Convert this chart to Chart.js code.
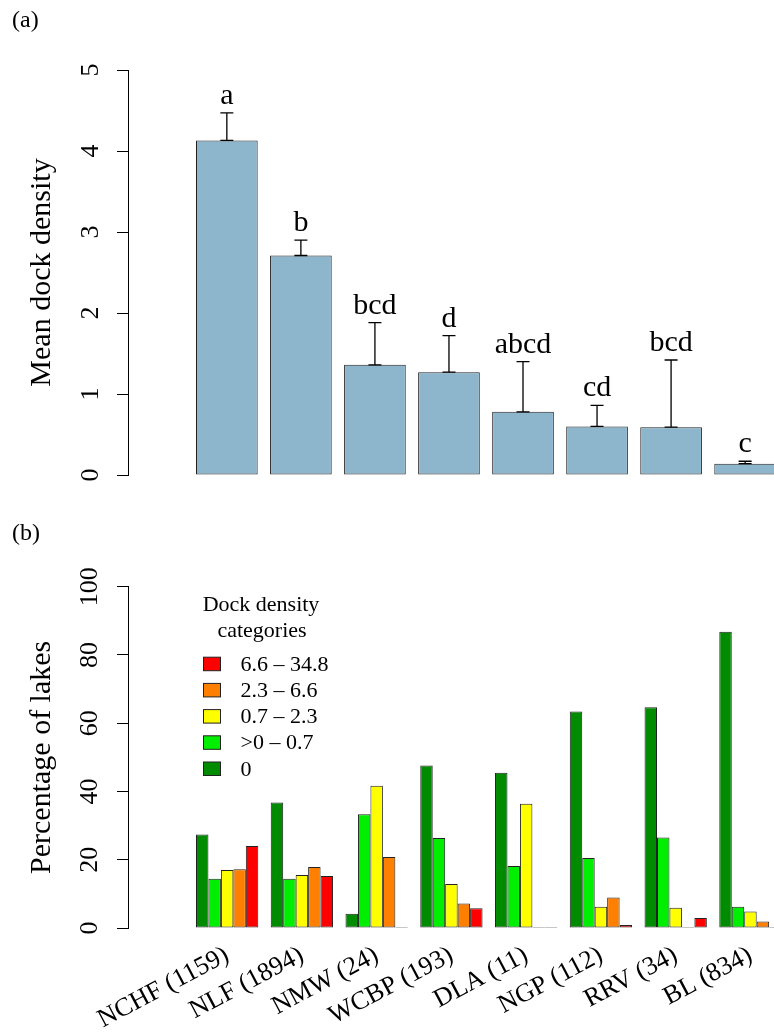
<!DOCTYPE html>
<html>
<head>
<meta charset="utf-8">
<title>Dock density by ecoregion</title>
<script src="https://cdn.jsdelivr.net/npm/chart.js@4.4.1/dist/chart.umd.min.js"></script>
<style>
  html, body { margin: 0; padding: 0; background: #fff; overflow: hidden; width: 774px; height: 1034px; }
  .panel { position: absolute; left: 0; width: 774px; }
  #panelA { top: 0; height: 500px; }
  #panelB { top: 500px; height: 534px; }
  canvas { display: block; }
</style>
</head>
<body>
<div class="panel" id="panelA"><canvas id="densityChart" width="774" height="500"></canvas></div>
<div class="panel" id="panelB"><canvas id="shareChart" width="774" height="534"></canvas></div>
<script>
// Ecoregions with number of lakes surveyed
const ecoregions = ['NCHF (1159)', 'NLF (1894)', 'NMW (24)', 'WCBP (193)', 'DLA (11)', 'NGP (112)', 'RRV (34)', 'BL (834)'];

// (a) mean dock density, upper end of the error bar, and significance groups
const meanDensity  = [4.13, 2.71, 1.36, 1.27, 0.78, 0.60, 0.59, 0.14];
const densityUpper = [4.47, 2.90, 1.88, 1.72, 1.40, 0.86, 1.42, 0.17];
const groupLetters = ['a', 'b', 'bcd', 'd', 'abcd', 'cd', 'bcd', 'c'];
const densityTicks = [0, 1, 2, 3, 4, 5];

// (b) percentage of lakes in each dock density category
const categoryNames = ['0', '>0 \u2013 0.7', '0.7 \u2013 2.3', '2.3 \u2013 6.6', '6.6 \u2013 34.8'];
const pctNone = [27.4, 36.8, 4.2, 47.6, 45.5, 63.4, 64.7, 86.8];
const pctLow  = [14.4, 14.4, 33.3, 26.4, 18.2, 20.5, 26.5, 6.2];
const pctMid  = [17.0, 15.5, 41.7, 12.9, 36.4, 6.2, 5.9, 4.8];
const pctHigh = [17.2, 17.9, 20.8, 7.2, 0, 8.9, 0, 1.9];
const pctTop  = [24.0, 15.2, 0, 5.8, 0, 0.9, 2.9, 0.2];
const percentTicks = [0, 20, 40, 60, 80, 100];

const SERIF = "'Liberation Serif', 'Times New Roman', serif";
Chart.defaults.font.family = SERIF;
Chart.defaults.color = '#000';

const toPoints = vals => vals.map((v, i) => ({ x: i, y: v }));

// fixed axis boxes so both panels share the same plotting frame
function fixBox(w, h) {
  return scale => {
    if (w !== null) scale.width = w;
    if (h !== null) scale.height = h;
    scale.paddingLeft = scale.paddingRight = scale.paddingTop = scale.paddingBottom = 0;
  };
}

function yAxis(min, max, tickValues, title, tickPad) {
  return {
    min, max,
    afterBuildTicks: s => { s.ticks = tickValues.map(v => ({ value: v })); },
    border: { display: true, color: '#000', width: 1 },
    grid: { drawOnChartArea: false, drawTicks: true, tickLength: 11, color: '#000', lineWidth: 1 },
    ticks: { font: { size: 26 }, color: '#000', minRotation: 90, maxRotation: 90, crossAlign: 'center', padding: tickPad },
    title: { display: true, text: title, font: { size: 30 }, color: '#000', padding: { top: 24, bottom: 0 } },
    afterFit: fixBox(128, null)
  };
}

const panelLabel = text => ({
  id: 'panelLabel',
  afterDraw(chart) {
    const ctx = chart.ctx;
    ctx.save();
    ctx.font = `24px ${SERIF}`;
    ctx.fillStyle = '#000';
    ctx.textAlign = 'left';
    ctx.textBaseline = 'alphabetic';
    ctx.fillText(text.label, 12, text.y);
    ctx.restore();
  }
});

// error bars (capped at both ends) and group letters above them
const errorBars = {
  id: 'errorBars',
  afterDatasetsDraw(chart) {
    const { ctx, scales: { x, y } } = chart;
    ctx.save();
    ctx.strokeStyle = '#000';
    ctx.lineWidth = 1.3;
    meanDensity.forEach((m, i) => {
      const px = x.getPixelForValue(i);
      const y0 = y.getPixelForValue(m);
      const y1 = y.getPixelForValue(densityUpper[i]);
      ctx.beginPath();
      ctx.moveTo(px, y0); ctx.lineTo(px, y1);
      ctx.moveTo(px - 6.5, y1); ctx.lineTo(px + 6.5, y1);
      ctx.moveTo(px - 6.5, y0); ctx.lineTo(px + 6.5, y0);
      ctx.stroke();
    });
    ctx.font = `30px ${SERIF}`;
    ctx.fillStyle = '#000';
    ctx.textAlign = 'center';
    ctx.textBaseline = 'alphabetic';
    groupLetters.forEach((t, i) => {
      ctx.fillText(t, x.getPixelForValue(i), y.getPixelForValue(densityUpper[i]) - 9);
    });
    ctx.restore();
  }
};

new Chart(document.getElementById('densityChart'), {
  type: 'bar',
  data: {
    datasets: [{
      label: 'Mean dock density',
      data: toPoints(meanDensity),
      backgroundColor: '#8DB6CD',
      borderColor: '#222',
      borderWidth: 1,
      borderSkipped: false,
      categoryPercentage: 0.833,
      barPercentage: 1
    }]
  },
  options: {
    responsive: false,
    animation: false,
    events: [],
    layout: { padding: { top: 70, left: 0, right: 0, bottom: 25 } },
    plugins: { legend: { display: false }, tooltip: { enabled: false } },
    scales: {
      x: {
        type: 'linear', min: -1.335, max: 7.39, display: false, offset: false,
        grid: { offset: false },
        afterBuildTicks: s => { s.ticks = ecoregions.map((_, i) => ({ value: i })); },
        afterFit: fixBox(null, 0)
      },
      y: yAxis(0, 5, densityTicks, 'Mean dock density', 19)
    }
  },
  plugins: [errorBars, panelLabel({ label: '(a)', y: 27 })]
});

// legend box drawn inside the plotting area, highest category first
const categoryLegend = {
  id: 'categoryLegend',
  afterDraw(chart) {
    const ctx = chart.ctx;
    ctx.save();
    ctx.fillStyle = '#000';
    ctx.font = `22px ${SERIF}`;
    ctx.textAlign = 'center';
    ctx.textBaseline = 'alphabetic';
    ctx.fillText('Dock density', 261, 110.5);
    ctx.fillText('categories', 262, 136.5);
    ctx.textAlign = 'left';
    const sets = chart.data.datasets.slice().reverse();
    sets.forEach((ds, k) => {
      const base = 170.7 + k * 26.2;
      ctx.fillStyle = ds.backgroundColor;
      ctx.fillRect(203.5, base - 13.5, 17, 13.5);
      ctx.strokeStyle = '#222';
      ctx.lineWidth = 1;
      ctx.strokeRect(203.5, base - 13.5, 17, 13.5);
      ctx.fillStyle = '#000';
      ctx.fillText(ds.label, 240.5, base);
    });
    ctx.restore();
  }
};

const shareColors = ['#008B00', '#00EE00', '#FFFF00', '#FF7F00', '#FF0000'];
const shareSeries = [pctNone, pctLow, pctMid, pctHigh, pctTop];

new Chart(document.getElementById('shareChart'), {
  type: 'bar',
  data: {
    datasets: shareSeries.map((vals, k) => ({
      label: categoryNames[k],
      data: toPoints(vals),
      backgroundColor: shareColors[k],
      borderColor: '#222',
      borderWidth: 1,
      borderSkipped: false,
      minBarLength: 1,
      categoryPercentage: 5 / 6,
      barPercentage: 1
    }))
  },
  options: {
    responsive: false,
    animation: false,
    events: [],
    layout: { padding: { top: 86.7, left: 0, right: 0, bottom: 0 } },
    plugins: { legend: { display: false }, tooltip: { enabled: false } },
    scales: {
      x: {
        type: 'linear', min: -1.326, max: 7.315, offset: false,
        afterBuildTicks: s => { s.ticks = ecoregions.map((_, i) => ({ value: i })); },
        border: { display: false },
        grid: { display: false, drawTicks: false, offset: false },
        ticks: {
          callback: v => ecoregions[v],
          font: { size: 26 }, color: '#000',
          minRotation: 28, maxRotation: 28, autoSkip: false, padding: 12
        },
        afterFit: fixBox(null, 106)
      },
      y: yAxis(0, 100, percentTicks, 'Percentage of lakes', 7)
    }
  },
  plugins: [categoryLegend, panelLabel({ label: '(b)', y: 40 })]
});
</script>
</body>
</html>
